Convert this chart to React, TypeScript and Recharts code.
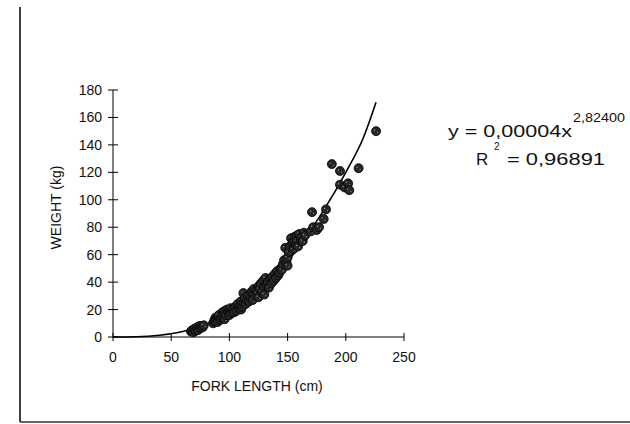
import { ComposedChart, Line, Scatter, XAxis, YAxis } from "recharts";

const xTicks = [0, 50, 100, 150, 200, 250];
const yTicks = [0, 20, 40, 60, 80, 100, 120, 140, 160, 180];

// trendline
const fitLength = [0, 20, 40, 60, 80, 100, 120, 140, 160, 180, 200, 215, 226];
const fitWeight = [0, 0.2, 1.3, 4, 9.2, 17.5, 29, 45, 66, 91, 120, 145, 171];

// fish measurements
const fishLength = [
	67, 68, 69, 70, 71, 72, 73, 74, 75, 76, 77, 78,
	86, 87, 88, 88, 89, 90, 90, 91, 92, 93, 94, 94, 95, 96, 96, 97, 98, 99, 100, 100,
	101, 102, 103, 104, 105, 106, 107, 108, 109, 110, 110, 111, 112, 112, 113, 114, 115, 116, 117, 118,
	119, 120, 120, 121, 122, 123, 124, 125, 125, 126, 127, 128, 129, 130, 130,
	131, 132, 133, 134, 135, 136, 137, 138, 139, 140, 141, 142, 143, 144, 145, 146, 147, 148, 149, 150, 150,
	151, 152, 153, 154, 155, 155, 156, 157, 158, 158, 159, 160, 161, 162, 163, 164, 165,
	170, 172, 171, 175, 177, 181, 183, 188, 195, 195, 199, 202, 203, 211, 226,
];
const fishWeight = [
	4, 5, 3.5, 6, 4.5, 7, 5, 8, 6.5, 8, 7, 8.5,
	10, 12, 11, 14, 13, 15, 11, 16, 12.5, 14, 18, 15, 17, 19, 13, 16, 20, 18, 19, 16,
	21, 17.5, 20, 18, 22, 19, 24, 21, 23, 26, 20, 22, 32, 25, 28, 24, 27, 30, 26, 29,
	33, 31, 27, 35, 30, 34, 32, 37, 29, 35, 39, 33, 41, 36, 31,
	43, 38, 40, 36, 42, 39, 44, 41, 46, 43, 48, 45, 47, 50, 49, 53, 56, 65, 55, 52, 58,
	62, 66, 72, 68, 70, 64, 73, 67, 74, 70, 66, 75, 71, 73, 70, 76, 74,
	77, 80, 91, 78, 80, 86, 93, 126, 121, 111, 109, 112, 107, 123, 150,
];

const fitData = fitLength.map((x, i) => ({ x, y: fitWeight[i] }));
const fishData = fishLength.map((x, i) => ({ x, y: fishWeight[i] }));

const FONT = "'Liberation Sans', Arial, sans-serif";

const YTick = ({ x, y, payload }: any) => (
	<g>
		<line x1={x + 6} x2={x + 16} y1={y} y2={y} stroke="#000" />
		<text x={x} y={y} dy="0.355em" textAnchor="end" fontSize={14} fontFamily={FONT} fill="#111">
			{payload.value}
		</text>
	</g>
);

const XTick = ({ x, y, payload }: any) => (
	<g>
		<line x1={x} x2={x} y1={y - 19} y2={y - 11} stroke="#000" />
		<text x={x} y={y} dy="0.71em" textAnchor="middle" fontSize={14} fontFamily={FONT} fill="#111">
			{payload.value}
		</text>
	</g>
);

// dark dot with a couple of light specks, like the scanned markers
const Dot = ({ cx, cy }: any) => (
	<g>
		<circle cx={cx} cy={cy} r={4.5} fill="#262626" stroke="#000" strokeWidth={0.8} />
		<circle cx={cx - 1.5} cy={cy - 1} r={0.7} fill="#9a9a9a" />
		<circle cx={cx + 1.5} cy={cy + 1.2} r={0.6} fill="#9a9a9a" />
	</g>
);

export default function App() {
	return (
		<div style={{ position: "absolute", left: 0, top: 0, width: 630, height: 424, background: "#fff" }}>
			<ComposedChart width={630} height={424} margin={{ top: 90, right: 226, bottom: 57, left: 53 }}>
				<XAxis
					type="number"
					dataKey="x"
					domain={[0, 250]}
					ticks={xTicks}
					height={30}
					tickSize={4}
					tickMargin={11}
					tickLine={false}
					tick={<XTick />}
					axisLine={{ stroke: "#000" }}
				/>
				<YAxis
					type="number"
					dataKey="y"
					domain={[0, 180]}
					ticks={yTicks}
					width={60}
					tickSize={5}
					tickMargin={6}
					tickLine={false}
					tick={<YTick />}
					axisLine={{ stroke: "#000" }}
				/>
				<Scatter data={fishData} fill="#262626" isAnimationActive={false} shape={<Dot />} />
				<Line
					data={fitData}
					dataKey="y"
					type="monotone"
					stroke="#000"
					strokeWidth={1.6}
					dot={false}
					isAnimationActive={false}
				/>
			</ComposedChart>
			<svg width={630} height={424} style={{ position: "absolute", left: 0, top: 0, pointerEvents: "none" }}>
				<line x1={20} x2={20} y1={7} y2={422} stroke="#000" strokeWidth={1.5} />
				<line x1={20} x2={630} y1={422} y2={422} stroke="#333" strokeWidth={1.5} />
				<text x={257} y={391} textAnchor="middle" fontSize={14} fontFamily={FONT} fill="#111">
					FORK LENGTH (cm)
				</text>
				<text
					x={61}
					y={207.5}
					textAnchor="middle"
					fontSize={14}
					fontFamily={FONT}
					fill="#111"
					transform="rotate(-90, 61, 207.5)"
				>
					WEIGHT (kg)
				</text>
				<text x={448} y={137} fontSize={17} fontFamily={FONT} fill="#111" textLength={124} lengthAdjust="spacingAndGlyphs">
					y = 0,00004x
				</text>
				<text x={573} y={122} fontSize={12} fontFamily={FONT} fill="#111" textLength={52} lengthAdjust="spacingAndGlyphs">
					2,82400
				</text>
				<text x={476} y={165} fontSize={17} fontFamily={FONT} fill="#111">
					R
				</text>
				<text x={494} y={150} fontSize={10} fontFamily={FONT} fill="#111">
					2
				</text>
				<text x={507} y={165} fontSize={17} fontFamily={FONT} fill="#111" textLength={98} lengthAdjust="spacingAndGlyphs">
					= 0,96891
				</text>
			</svg>
		</div>
	);
}
